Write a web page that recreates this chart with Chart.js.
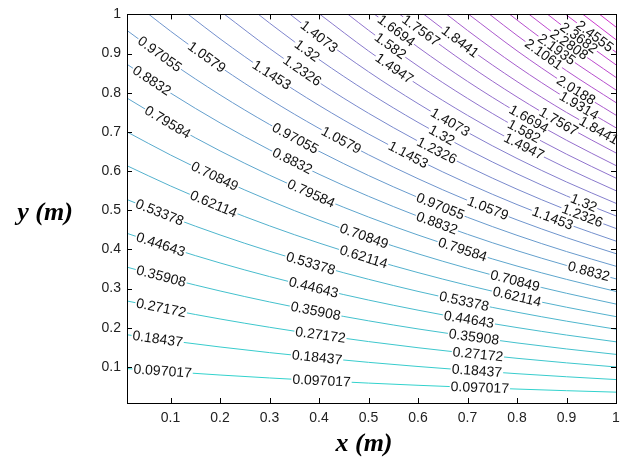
<!DOCTYPE html>
<html>
<head>
<meta charset="utf-8">
<script src="https://cdn.jsdelivr.net/npm/chart.js@4.4.1/dist/chart.umd.min.js"></script>
<style>
  html, body { margin: 0; padding: 0; background: #fff; }
  #wrap { width: 628px; height: 466px; }
</style>
</head>
<body>
<div id="wrap"><canvas id="contourChart" width="628" height="466"></canvas></div>
<script>
// contour levels and the text printed on each line
const levels = [0.097017, 0.18437, 0.27172, 0.35908, 0.44643, 0.53378, 0.62114, 0.70849, 0.79584, 0.8832,
  0.97055, 1.0579, 1.1453, 1.2326, 1.32, 1.4073, 1.4947, 1.582, 1.6694, 1.7567,
  1.8441, 1.9314, 2.0188, 2.1061, 2.1935, 2.2808, 2.3682, 2.4555, 2.5429, 2.6302];
const levelText = ['0.097017', '0.18437', '0.27172', '0.35908', '0.44643', '0.53378', '0.62114', '0.70849', '0.79584', '0.8832',
  '0.97055', '1.0579', '1.1453', '1.2326', '1.32', '1.4073', '1.4947', '1.582', '1.6694', '1.7567',
  '1.8441', '1.9314', '2.0188', '2.1061', '2.1935', '2.2808', '2.3682', '2.4555', '2.5429', '2.6302'];

// x positions where each line is sampled
const sampleX = [0.012, 0.1, 0.2, 0.3, 0.4, 0.5, 0.6, 0.7, 0.8, 0.9, 1.0];

// x where a line leaves through the top edge (y = 1), null if it runs the full width
const topExitX = [null, null, null, null, null, null, null, null, null, null,
  null, 0.0563, 0.1357, 0.2091, 0.2776, 0.3417, 0.4019, 0.4587, 0.5125, 0.5634,
  0.6120, 0.6582, 0.7025, 0.7448, 0.7855, 0.8245, 0.8621, 0.8983, 0.9333, 0.9671];

// y of each line at sampleX (null = above the plot)
const contourY = [
  [0.0959, 0.0878, 0.0794, 0.0719, 0.0650, 0.0588, 0.0532, 0.0482, 0.0436, 0.0394, 0.0357],
  [0.1822, 0.1668, 0.1510, 0.1366, 0.1236, 0.1118, 0.1012, 0.0916, 0.0828, 0.0750, 0.0678],
  [0.2685, 0.2459, 0.2225, 0.2013, 0.1821, 0.1648, 0.1491, 0.1349, 0.1221, 0.1105, 0.1000],
  [0.3548, 0.3249, 0.2940, 0.2660, 0.2407, 0.2178, 0.1971, 0.1783, 0.1614, 0.1460, 0.1321],
  [0.4411, 0.4040, 0.3655, 0.3307, 0.2993, 0.2708, 0.2450, 0.2217, 0.2006, 0.1815, 0.1642],
  [0.5274, 0.4830, 0.4370, 0.3954, 0.3578, 0.3238, 0.2929, 0.2651, 0.2398, 0.2170, 0.1964],
  [0.6137, 0.5620, 0.5085, 0.4602, 0.4164, 0.3767, 0.3409, 0.3085, 0.2791, 0.2525, 0.2285],
  [0.7000, 0.6411, 0.5801, 0.5249, 0.4749, 0.4297, 0.3888, 0.3518, 0.3184, 0.2881, 0.2606],
  [0.7864, 0.7201, 0.6516, 0.5896, 0.5335, 0.4827, 0.4368, 0.3952, 0.3576, 0.3236, 0.2928],
  [0.8727, 0.7992, 0.7231, 0.6543, 0.5920, 0.5357, 0.4847, 0.4386, 0.3969, 0.3591, 0.3249],
  [0.9590, 0.8782, 0.7946, 0.7190, 0.6506, 0.5887, 0.5327, 0.4820, 0.4361, 0.3946, 0.3571],
  [null, 0.9572, 0.8661, 0.7837, 0.7091, 0.6417, 0.5806, 0.5253, 0.4754, 0.4301, 0.3892],
  [null, null, 0.9377, 0.8485, 0.7677, 0.6947, 0.6286, 0.5687, 0.5146, 0.4656, 0.4213],
  [null, null, null, 0.9131, 0.8262, 0.7476, 0.6765, 0.6121, 0.5538, 0.5011, 0.4535],
  [null, null, null, 0.9779, 0.8848, 0.8006, 0.7244, 0.6555, 0.5931, 0.5367, 0.4856],
  [null, null, null, null, 0.9433, 0.8536, 0.7723, 0.6989, 0.6323, 0.5722, 0.5177],
  [null, null, null, null, null, 0.9066, 0.8203, 0.7423, 0.6716, 0.6077, 0.5499],
  [null, null, null, null, null, 0.9595, 0.8682, 0.7856, 0.7108, 0.6432, 0.5820],
  [null, null, null, null, null, null, 0.9162, 0.8290, 0.7501, 0.6787, 0.6141],
  [null, null, null, null, null, null, 0.9641, 0.8724, 0.7893, 0.7142, 0.6463],
  [null, null, null, null, null, null, null, 0.9158, 0.8286, 0.7498, 0.6784],
  [null, null, null, null, null, null, null, 0.9591, 0.8678, 0.7853, 0.7105],
  [null, null, null, null, null, null, null, null, 0.9071, 0.8208, 0.7427],
  [null, null, null, null, null, null, null, null, 0.9463, 0.8563, 0.7748],
  [null, null, null, null, null, null, null, null, 0.9856, 0.8918, 0.8069],
  [null, null, null, null, null, null, null, null, null, 0.9273, 0.8391],
  [null, null, null, null, null, null, null, null, null, 0.9628, 0.8712],
  [null, null, null, null, null, null, null, null, null, 0.9983, 0.9033],
  [null, null, null, null, null, null, null, null, null, null, 0.9355],
  [null, null, null, null, null, null, null, null, null, null, 0.9676]
];

// x positions of the inline labels on each line
const labelAt = [
  [0.084, 0.405, 0.725], [0.074, 0.396, 0.719], [0.081, 0.403, 0.721], [0.081, 0.393, 0.713],
  [0.080, 0.389, 0.703], [0.078, 0.383, 0.693], [0.187, 0.490, 0.800], [0.189, 0.491, 0.796],
  [0.094, 0.384, 0.690], [0.062, 0.346, 0.638, 0.945], [0.078, 0.352, 0.645], [0.173, 0.445, 0.741],
  [0.304, 0.580, 0.872], [0.366, 0.638, 0.932], [0.376, 0.648, 0.935], [0.400, 0.665],
  [0.552, 0.814], [0.544, 0.814], [0.556, 0.824], [0.606, 0.884],
  [0.685, 0.965], [0.925], [0.919], [0.854], [0.880], [0.905], [0.925], [0.957], [], []
];

const xTicks = [0.1, 0.2, 0.3, 0.4, 0.5, 0.6, 0.7, 0.8, 0.9, 1];
const yTicks = [0.1, 0.2, 0.3, 0.4, 0.5, 0.6, 0.7, 0.8, 0.9, 1];

const sansFont = '"Liberation Sans", Arial, Helvetica, sans-serif';
const serifFont = '"Liberation Serif", "Times New Roman", serif';

function buildContour(i) {
  const pts = [];
  if (topExitX[i] !== null) pts.push({ x: topExitX[i], y: 1 });
  contourY[i].forEach((y, j) => {
    if (y !== null) pts.push({ x: sampleX[j], y: y });
  });
  return pts;
}

// muted cool colormap, cyan at the bottom up to magenta in the corner
function levelColor(i) {
  const t = i / (levels.length - 1);
  const r = Math.round(50 + 160 * t);
  const g = Math.round(50 + 160 * (1 - t));
  return `rgb(${r}, ${g}, 205)`;
}

const datasets = levels.map((lv, i) => ({
  label: levelText[i],
  data: buildContour(i),
  showLine: true,
  borderColor: levelColor(i),
  borderWidth: 1,
  pointRadius: 0,
  fill: false,
  cubicInterpolationMode: 'monotone'
}));

const contourLabels = {
  id: 'contourLabels',
  afterDatasetsDraw(chart) {
    const ctx = chart.ctx;
    const xs = chart.scales.x, ys = chart.scales.y;
    ctx.save();
    ctx.font = '14px ' + sansFont;
    ctx.textAlign = 'center';
    ctx.textBaseline = 'middle';
    labelAt.forEach((list, i) => {
      const pts = chart.data.datasets[i].data;
      list.forEach(lx => {
        let k = pts.findIndex(p => p.x >= lx);
        if (k <= 0) k = 1;
        const a = pts[k - 1], b = pts[k];
        const t = (lx - a.x) / (b.x - a.x);
        const ly = a.y + t * (b.y - a.y);
        const px = xs.getPixelForValue(lx), py = ys.getPixelForValue(ly);
        const ang = Math.atan2(ys.getPixelForValue(b.y) - ys.getPixelForValue(a.y),
          xs.getPixelForValue(b.x) - xs.getPixelForValue(a.x));
        const w = ctx.measureText(levelText[i]).width;
        ctx.save();
        ctx.translate(px, py);
        ctx.rotate(ang);
        ctx.fillStyle = '#fff';
        ctx.fillRect(-w / 2 - 1, -4.5, w + 2, 9);
        ctx.fillStyle = '#111';
        ctx.fillText(levelText[i], 0, 0.5);
        ctx.restore();
      });
    });
    ctx.restore();
  }
};

// box with inward ticks on all four sides, plus the axis titles
const frame = {
  id: 'frame',
  afterDraw(chart) {
    const ctx = chart.ctx;
    const { left, right, top, bottom } = chart.chartArea;
    const xs = chart.scales.x, ys = chart.scales.y;
    ctx.save();
    ctx.strokeStyle = '#000';
    ctx.lineWidth = 1;
    ctx.strokeRect(Math.round(left) + 0.5, Math.round(top) + 0.5,
      Math.round(right - left), Math.round(bottom - top));
    ctx.beginPath();
    xTicks.forEach(v => {
      const px = Math.round(xs.getPixelForValue(v)) + 0.5;
      ctx.moveTo(px, bottom); ctx.lineTo(px, bottom - 5);
      ctx.moveTo(px, top); ctx.lineTo(px, top + 5);
    });
    yTicks.forEach(v => {
      const py = Math.round(ys.getPixelForValue(v)) + 0.5;
      ctx.moveTo(left, py); ctx.lineTo(left + 5, py);
      ctx.moveTo(right, py); ctx.lineTo(right - 5, py);
    });
    ctx.stroke();

    ctx.fillStyle = '#000';
    ctx.font = 'italic bold 26px ' + serifFont;
    ctx.textAlign = 'center';
    ctx.textBaseline = 'middle';
    ctx.fillText('x (m)', 364, 444);
    ctx.fillText('y (m)', 45, 213);
    ctx.restore();
  }
};

const whiteBg = {
  id: 'whiteBg',
  beforeDraw(chart) {
    const ctx = chart.ctx;
    ctx.save();
    ctx.fillStyle = '#fff';
    ctx.fillRect(0, 0, chart.width, chart.height);
    ctx.restore();
  }
};

const tickFmt = v => (v === 1 ? '1' : v.toFixed(1));

new Chart(document.getElementById('contourChart').getContext('2d'), {
  type: 'scatter',
  data: { datasets },
  options: {
    responsive: false,
    animation: false,
    devicePixelRatio: 1,
    layout: { padding: { top: 13, right: 12, left: 0, bottom: 0 } },
    plugins: { legend: { display: false }, tooltip: { enabled: false } },
    scales: {
      x: {
        type: 'linear', min: 0.012, max: 1,
        afterBuildTicks: s => { s.ticks = xTicks.map(v => ({ value: v })); },
        afterFit: s => { s.height = 63; },
        grid: { display: false, drawTicks: false },
        border: { display: false },
        ticks: { callback: tickFmt, color: '#222', padding: 7, maxRotation: 0, autoSkip: false,
          font: { family: sansFont, size: 14 } }
      },
      y: {
        type: 'linear', min: 0.008, max: 1,
        afterBuildTicks: s => { s.ticks = yTicks.map(v => ({ value: v })); },
        afterFit: s => { s.width = 127; },
        grid: { display: false, drawTicks: false },
        border: { display: false },
        ticks: { callback: tickFmt, color: '#222', padding: 6, autoSkip: false,
          font: { family: sansFont, size: 14 } }
      }
    }
  },
  plugins: [whiteBg, contourLabels, frame]
});
</script>
</body>
</html>
